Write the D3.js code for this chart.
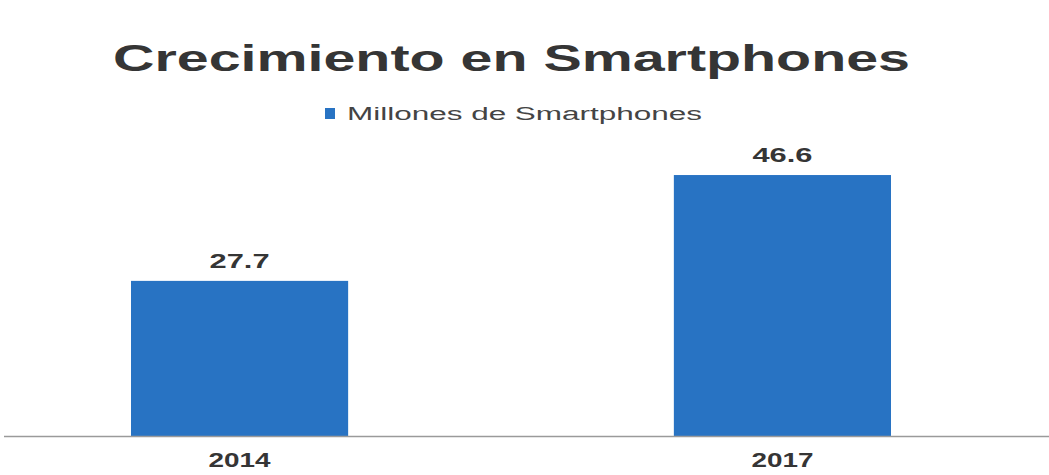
<!DOCTYPE html>
<html>
<head>
<meta charset="utf-8">
<script src="https://cdn.jsdelivr.net/npm/d3@7"></script>
<style>
  html, body { margin: 0; padding: 0; background: #ffffff; }
  svg { display: block; font-family: "Liberation Sans", Arial, sans-serif; }
</style>
</head>
<body>
<svg id="chart" width="1049" height="475"></svg>
<script>
// Smartphone growth data (millions)
const categories = ["2014", "2017"];
const values = [27.7, 46.6];
const seriesName = "Millones de Smartphones";
const title = "Crecimiento en Smartphones";

const W = 1049, H = 475;
const baseY = 436;
const barColor = "#2873c3";
const textColor = "#353535";

const svg = d3.select("#chart");

const x = d3.scaleBand()
  .domain(categories)
  .range([131, 891])
  .paddingInner(0.6)
  .paddingOuter(0);

const y = d3.scaleLinear()
  .domain([0, 50])
  .range([baseY, baseY - 280]);

// Title (wide lettering)
svg.append("text")
  .attr("x", 113)
  .attr("y", 71)
  .attr("font-size", 37)
  .attr("font-weight", "bold")
  .attr("fill", textColor)
  .attr("textLength", 797)
  .attr("lengthAdjust", "spacingAndGlyphs")
  .text(title);

// Legend
const legend = svg.append("g").attr("transform", "translate(325,108)");
legend.append("rect")
  .attr("x", 0).attr("y", 0)
  .attr("width", 10).attr("height", 11)
  .attr("fill", barColor);
legend.append("text")
  .attr("x", 22)
  .attr("y", 12)
  .attr("font-size", 18)
  .attr("fill", "#444")
  .attr("textLength", 355)
  .attr("lengthAdjust", "spacingAndGlyphs")
  .text(seriesName);

const data = categories.map((c, i) => ({ cat: c, val: values[i] }));

// Bars
svg.append("g").selectAll("rect")
  .data(data)
  .join("rect")
  .attr("x", d => x(d.cat))
  .attr("y", d => y(d.val))
  .attr("width", x.bandwidth())
  .attr("height", d => y(0) - y(d.val))
  .attr("fill", barColor);

// Value labels
svg.append("g").selectAll("text")
  .data(data)
  .join("text")
  .attr("x", d => x(d.cat) + x.bandwidth() / 2 - 30)
  .attr("y", d => y(d.val) - 13)
  .attr("font-size", 21)
  .attr("font-weight", "bold")
  .attr("fill", textColor)
  .attr("textLength", 60)
  .attr("lengthAdjust", "spacingAndGlyphs")
  .text(d => d.val.toFixed(1));

// Baseline
svg.append("line")
  .attr("x1", 4).attr("x2", W)
  .attr("y1", y(0) + 0.5).attr("y2", y(0) + 0.5)
  .attr("stroke", "#9a9a9a")
  .attr("stroke-width", 1.5);

// Category axis
const xAxis = svg.append("g")
  .attr("transform", `translate(0,${y(0)})`)
  .call(d3.axisBottom(x).tickSize(0).tickPadding(16));
xAxis.select(".domain").remove();
xAxis.selectAll("text")
  .attr("font-size", 21)
  .attr("font-weight", "bold")
  .attr("font-family", "'Liberation Sans', Arial, sans-serif")
  .attr("fill", textColor)
  .attr("text-anchor", "start")
  .attr("x", -31)
  .attr("textLength", 62)
  .attr("lengthAdjust", "spacingAndGlyphs");
</script>
</body>
</html>
